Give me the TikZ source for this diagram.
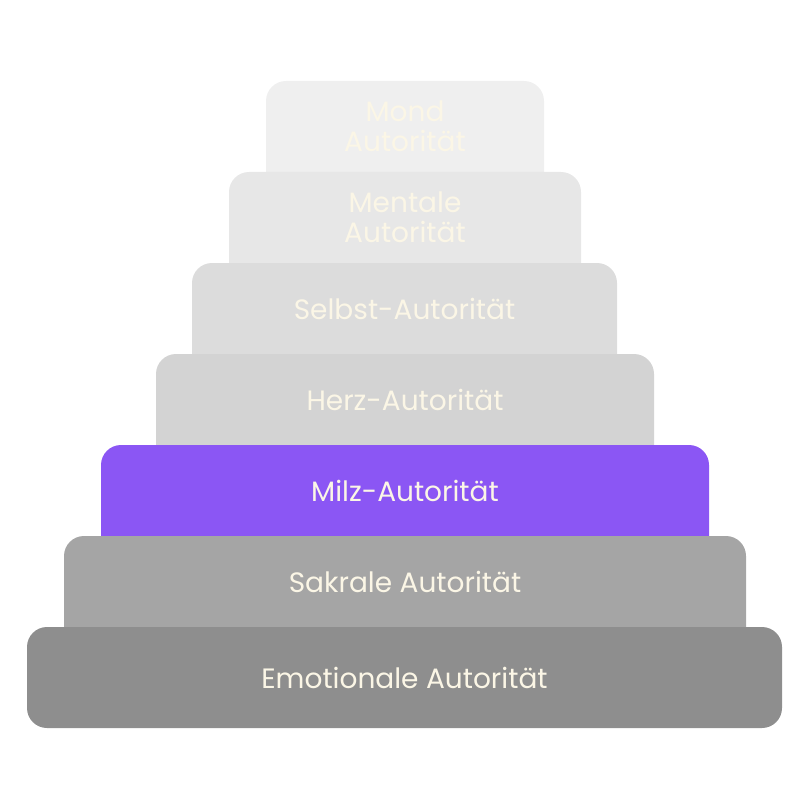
\documentclass[tikz,border=0pt]{standalone}
\usepackage{fontspec}
\setmainfont{Poppins}
\definecolor{cream}{HTML}{FBF6E6}
\definecolor{mondgray}{HTML}{EFEFEF}
\definecolor{mentalgray}{HTML}{E7E7E7}
\definecolor{selbstgray}{HTML}{DCDCDC}
\definecolor{herzgray}{HTML}{D3D3D3}
\definecolor{milzpurple}{HTML}{8B56F4}
\definecolor{sakralgray}{HTML}{A5A5A5}
\definecolor{emogray}{HTML}{8E8E8E}

\begin{document}
\begin{tikzpicture}[x=1pt,y=-1pt,
	steptext/.style={text=cream, align=center,
		font=\fontsize{28}{30}\selectfont}]
\useasboundingbox (0,0) rectangle (810,810);
% stacked steps, top to bottom
\foreach \n/\l/\r/\t/\b/\c/\txt in {
	mond/266/544/81/172/mondgray/{Mond\\Autorität},
	mentale/229/581/172/263/mentalgray/{Mentale\\Autorität},
	selbst/192/617/263/354/selbstgray/{Selbst-Autorität},
	herz/156/654/354/445/herzgray/{Herz-Autorität},
	milz/101/709/445/536/milzpurple/{Milz-Autorität},
	sakral/64/746/536/627/sakralgray/{Sakrale Autorität}}{
	\path [fill=\c, rounded corners=20pt] (\l,\b) -- (\l,\t) --
		(\r,\t) -- (\r,\b);
	\node [steptext] (\n) at ({(\l+\r)/2},{(\t+\b)/2}) {\txt};
}
% base step
\path [fill=emogray, rounded corners=20pt] (27,627) rectangle (782,728);
\node [steptext] (emotional) at (404.5,677.5) {Emotionale Autorität};
\end{tikzpicture}
\end{document}
